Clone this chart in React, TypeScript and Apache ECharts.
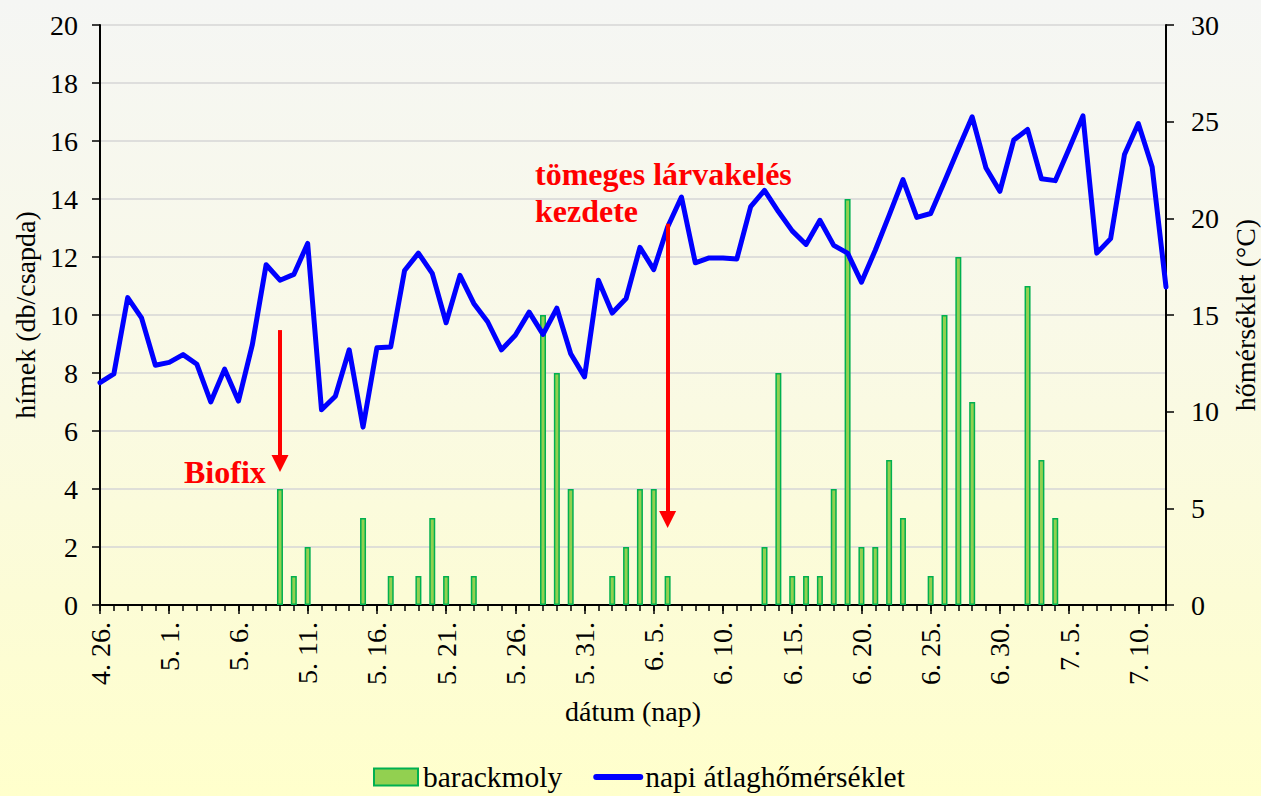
import React, { useEffect, useRef } from 'react';
import * as echarts from 'echarts';

const dates = [
  '4. 26.', '4. 27.', '4. 28.', '4. 29.', '4. 30.',
  '5. 1.', '5. 2.', '5. 3.', '5. 4.', '5. 5.', '5. 6.', '5. 7.', '5. 8.', '5. 9.', '5. 10.',
  '5. 11.', '5. 12.', '5. 13.', '5. 14.', '5. 15.', '5. 16.', '5. 17.', '5. 18.', '5. 19.', '5. 20.',
  '5. 21.', '5. 22.', '5. 23.', '5. 24.', '5. 25.', '5. 26.', '5. 27.', '5. 28.', '5. 29.', '5. 30.', '5. 31.',
  '6. 1.', '6. 2.', '6. 3.', '6. 4.', '6. 5.', '6. 6.', '6. 7.', '6. 8.', '6. 9.', '6. 10.',
  '6. 11.', '6. 12.', '6. 13.', '6. 14.', '6. 15.', '6. 16.', '6. 17.', '6. 18.', '6. 19.', '6. 20.',
  '6. 21.', '6. 22.', '6. 23.', '6. 24.', '6. 25.', '6. 26.', '6. 27.', '6. 28.', '6. 29.', '6. 30.',
  '7. 1.', '7. 2.', '7. 3.', '7. 4.', '7. 5.', '7. 6.', '7. 7.', '7. 8.', '7. 9.', '7. 10.', '7. 11.', '7. 12.'
];

// barackmoly hímek (db/csapda)
const moths = [
  0, 0, 0, 0, 0, 0, 0, 0, 0, 0, 0, 0, 0, 4, 1, 2, 0, 0, 0, 3,
  0, 1, 0, 1, 3, 1, 0, 1, 0, 0, 0, 0, 10, 8, 4, 0, 0, 1, 2, 4,
  4, 1, 0, 0, 0, 0, 0, 0, 2, 8, 1, 1, 1, 4, 14, 2, 2, 5, 3, 0,
  1, 10, 12, 7, 0, 0, 0, 11, 5, 3, 0, 0, 0, 0, 0, 0, 0, 0
];

// napi átlaghőmérséklet (°C)
const temps = [
  11.5, 11.95, 15.9, 14.85, 12.4, 12.55, 12.95, 12.45, 10.5, 12.2,
  10.55, 13.45, 17.6, 16.8, 17.1, 18.7, 10.1, 10.8, 13.2, 9.2,
  13.3, 13.35, 17.3, 18.2, 17.15, 14.6, 17.05, 15.6, 14.65, 13.2,
  13.95, 15.15, 14.0, 15.35, 13.0, 11.8, 16.8, 15.1, 15.85, 18.5,
  17.35, 19.55, 21.1, 17.7, 17.95, 17.95, 17.9, 20.6, 21.45, 20.35,
  19.35, 18.65, 19.9, 18.6, 18.2, 16.7, 18.35, 20.15, 22.0, 20.05,
  20.25, 21.9, 23.6, 25.25, 22.6, 21.4, 24.05, 24.6, 22.05, 21.95,
  23.6, 25.3, 18.2, 18.95, 23.3, 24.9, 22.65, 16.45
];

// annotation arrows: category index, start value, end value (left axis)
const arrows = [
  { idx: 13, from: 9.48, to: 4.88 },
  { idx: 41, from: 13.15, to: 2.95 }
];

const FONT = "'Liberation Serif', 'Times New Roman', serif";

export default function App() {
  const ref = useRef<HTMLDivElement>(null);

  useEffect(() => {
    document.body.style.margin = '0';
    const chart = echarts.init(ref.current as HTMLDivElement, null, { renderer: 'svg' });
    const tickStyle = { color: '#000', width: 1.5 };
    chart.setOption({
      animation: false,
      backgroundColor: 'transparent',
      textStyle: { fontFamily: FONT, color: '#000' },
      grid: {
        left: 100, right: 95, top: 25, bottom: 191,
        containLabel: false, outerBoundsMode: 'none'
      },
      legend: {
        top: 757,
        left: 368,
        itemWidth: 44,
        itemHeight: 17,
        itemGap: 31,
        textStyle: { fontFamily: FONT, fontSize: 29.5, color: '#000' },
        data: [
          { name: 'barackmoly', icon: 'rect' },
          { name: 'napi átlaghőmérséklet', itemStyle: { opacity: 0 }, lineStyle: { width: 6, color: '#0000ff' } }
        ]
      },
      xAxis: [
        {
          type: 'category',
          data: dates,
          boundaryGap: false,
          axisLine: { lineStyle: { color: '#000', width: 2 } },
          axisTick: { interval: 0, length: 6, lineStyle: tickStyle },
          axisLabel: {
            interval: 4, rotate: 90, margin: 17, color: '#000',
            fontSize: 28, fontFamily: FONT
          },
          splitLine: { show: false },
          name: 'dátum (nap)',
          nameLocation: 'middle',
          nameGap: 92,
          nameTextStyle: { fontFamily: FONT, fontSize: 28, color: '#000' }
        },
        {
          type: 'category',
          data: dates,
          boundaryGap: false,
          position: 'bottom',
          axisLine: { show: false },
          axisTick: { interval: 4, length: 9, lineStyle: tickStyle },
          axisLabel: { show: false },
          splitLine: { show: false }
        }
      ],
      yAxis: [
        {
          type: 'value', min: 0, max: 20, interval: 2, position: 'left',
          axisLine: { show: true, lineStyle: { color: '#000', width: 2 } },
          axisTick: { show: true, length: 8, lineStyle: tickStyle },
          axisLabel: { fontSize: 28, color: '#000', fontFamily: FONT, margin: 22 },
          splitLine: { show: true, lineStyle: { color: '#d6d6d6', width: 1.5 } },
          name: 'hímek (db/csapda)',
          nameLocation: 'middle',
          nameRotate: 90,
          nameGap: 59,
          nameTextStyle: { fontFamily: FONT, fontSize: 28, color: '#000' }
        },
        {
          type: 'value', min: 0, max: 30, interval: 5, position: 'right',
          axisLine: { show: true, lineStyle: { color: '#000', width: 2 } },
          axisTick: { show: true, length: 8, lineStyle: tickStyle },
          axisLabel: { fontSize: 28, color: '#000', fontFamily: FONT, margin: 25 },
          splitLine: { show: false },
          name: 'hőmérséklet (°C)',
          nameLocation: 'middle',
          nameRotate: 90,
          nameGap: 65,
          nameTextStyle: { fontFamily: FONT, fontSize: 28, color: '#000' }
        }
      ],
      series: [
        {
          name: 'barackmoly',
          type: 'bar',
          xAxisIndex: 0,
          yAxisIndex: 0,
          barWidth: 6,
          data: moths.map((v) => (v === 0 ? '-' : v)),
          itemStyle: { color: '#92d050', borderColor: '#00b050', borderWidth: 1.5 },
          z: 2,
          markLine: {
            silent: true,
            symbol: ['none', 'triangle'],
            symbolSize: 17,
            label: { show: false },
            lineStyle: { color: '#ff0000', width: 4, type: 'solid' },
            itemStyle: { color: '#ff0000' },
            emphasis: { disabled: true },
            data: arrows.map((a) => [
              { coord: [a.idx, a.from] },
              { coord: [a.idx, a.to] }
            ])
          }
        },
        {
          name: 'napi átlaghőmérséklet',
          type: 'line',
          xAxisIndex: 0,
          yAxisIndex: 1,
          data: temps,
          symbol: 'none',
          lineStyle: { color: '#0000ff', width: 5, cap: 'round', join: 'round' },
          itemStyle: { color: '#0000ff' },
          z: 3
        }
      ],
      graphic: [
        {
          type: 'text', left: 184, top: 456, z: 10,
          style: { text: 'Biofix', font: `bold 32px ${FONT}`, fill: '#ff0000' }
        },
        {
          type: 'text', left: 535, top: 158, z: 10,
          style: { text: 'tömeges lárvakelés', font: `bold 32px ${FONT}`, fill: '#ff0000' }
        },
        {
          type: 'text', left: 535, top: 195, z: 10,
          style: { text: 'kezdete', font: `bold 32px ${FONT}`, fill: '#ff0000' }
        }
      ]
    });
    return () => chart.dispose();
  }, []);

  return (
    <div
      ref={ref}
      style={{
        position: 'absolute',
        left: 0,
        top: 0,
        width: 1261,
        height: 796,
        background: 'linear-gradient(to bottom, #f5f6f4 0%, #f9f9e8 40%, #fcfcd6 75%, #ffffcc 100%)'
      }}
    />
  );
}
